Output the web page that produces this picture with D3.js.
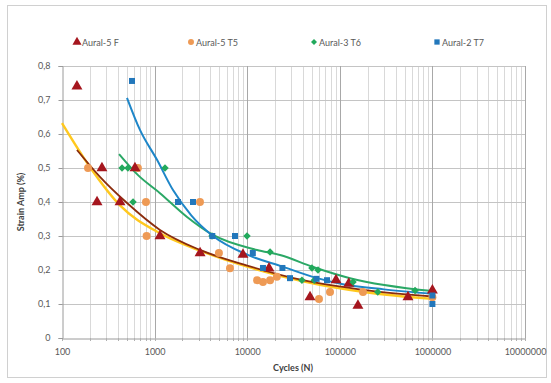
<!DOCTYPE html>
<html><head><meta charset="utf-8">
<script src="https://cdn.jsdelivr.net/npm/d3@7"></script>
<style>html,body{margin:0;padding:0;background:#fff;} svg{display:block;font-family:Lato,"Open Sans",sans-serif;}</style>
</head><body>
<script>
// ---- data ----
const seriesNames = ["Aural-5 F", "Aural-5 T5", "Aural-3 T6", "Aural-2 T7"];
const xTicks = [100, 1000, 10000, 100000, 1000000, 10000000];
const yTicks = [0, 0.1, 0.2, 0.3, 0.4, 0.5, 0.6, 0.7, 0.8];
const yTickLabels = ["0", "0,1", "0,2", "0,3", "0,4", "0,5", "0,6", "0,7", "0,8"];

const aural5F = [[145,0.74],[239,0.40],[270,0.50],[423,0.40],[614,0.50],[1143,0.30],[3100,0.25],[9000,0.245],[17200,0.205],[47700,0.12],[91000,0.17],[125000,0.16],[157000,0.095],[545000,0.12],[1000000,0.14]];
const aural5T5 = [[191,0.50],[660,0.50],[807,0.40],[820,0.30],[3090,0.40],[4950,0.25],[6520,0.205],[12800,0.17],[14800,0.165],[17650,0.17],[20900,0.18],[59600,0.115],[78400,0.135],[178000,0.135],[1000000,0.12]];
const aural3T6 = [[445,0.50],[515,0.50],[585,0.40],[1295,0.50],[4170,0.30],[9950,0.30],[17650,0.253],[39000,0.17],[50000,0.206],[53000,0.17],[58200,0.20],[139000,0.165],[257000,0.135],[650000,0.14]];
const aural2T7 = [[570,0.756],[1790,0.40],[2600,0.40],[4200,0.30],[7380,0.30],[11500,0.25],[14800,0.206],[24000,0.206],[29000,0.176],[56000,0.174],[72800,0.17],[1000000,0.125],[1000000,0.10]];

// trendlines
const trendF = [[145,0.553],[257,0.474],[504,0.397],[1143,0.318],[3090,0.259],[10000,0.213],[40000,0.17],[200000,0.14],[1000000,0.122]];
const trendT5 = [[100,0.632],[200,0.503],[423,0.39],[1143,0.308],[3090,0.257],[10000,0.21],[40000,0.167],[200000,0.134],[1000000,0.115]];
const trendT6 = [[413,0.541],[662,0.479],[1143,0.426],[2240,0.356],[4270,0.303],[12760,0.259],[22600,0.244],[51500,0.209],[129000,0.176],[1000000,0.138]];
const trendT7 = [[504,0.706],[695,0.612],[1062,0.524],[1581,0.435],[2500,0.36],[4270,0.30],[10000,0.245],[24000,0.21],[57000,0.176],[108000,0.158],[300000,0.143],[1000000,0.13]];

const W = 551, H = 383;
const svg = d3.select("body").append("svg").attr("width", W).attr("height", H);
svg.append("rect").attr("x",7.5).attr("y",5.5).attr("width",539).attr("height",372)
  .attr("fill","#fff").attr("stroke","#D0D0D0");

const x = d3.scaleLog().domain([100, 1e7]).range([62, 525]);
const y = d3.scaleLinear().domain([0, 0.8]).range([338, 66]);

// minor vertical grid
const minors = [];
for (let d = 100; d < 1e7; d *= 10) for (let k = 2; k <= 9; k++) minors.push(d * k);
svg.append("g").selectAll("line").data(minors).join("line")
  .attr("x1", d => Math.round(x(d)) + 0.5).attr("x2", d => Math.round(x(d)) + 0.5)
  .attr("y1", y(0.8)).attr("y2", y(0)).attr("stroke", "#D9D9D9").attr("stroke-width", 1);
// horizontal grid
svg.append("g").selectAll("line").data(yTicks.slice(1)).join("line")
  .attr("x1", x(100)).attr("x2", x(1e7))
  .attr("y1", d => Math.round(y(d)) + 0.5).attr("y2", d => Math.round(y(d)) + 0.5)
  .attr("stroke", "#C4C4C4");
// major vertical grid
svg.append("g").selectAll("line").data(xTicks.slice(1)).join("line")
  .attr("x1", d => Math.round(x(d)) + 0.5).attr("x2", d => Math.round(x(d)) + 0.5)
  .attr("y1", y(0.8)).attr("y2", y(0)).attr("stroke", "#A8A8A8");

// axes
const xAxis = d3.axisBottom(x).tickValues(xTicks).tickFormat(d3.format("d")).tickSize(0).tickPadding(10);
const gx = svg.append("g").attr("transform", `translate(0,${Math.round(y(0)) + 0.5})`).call(xAxis);
gx.select(".domain").attr("stroke", "#9A9A9A");
gx.selectAll("text").attr("fill", "#595959").style("font-size", "9px").style("font-family", "Lato, sans-serif");
// minor tick marks
svg.append("g").selectAll("line").data(minors.concat(xTicks)).join("line")
  .attr("x1", d => Math.round(x(d)) + 0.5).attr("x2", d => Math.round(x(d)) + 0.5)
  .attr("y1", y(0)).attr("y2", y(0) + 3).attr("stroke", "#B0B0B0");

const yAxis = d3.axisLeft(y).tickValues(yTicks).tickFormat((d, i) => yTickLabels[i]).tickSize(4).tickPadding(8);
const gy = svg.append("g").attr("transform", `translate(${Math.round(x(100)) + 0.5},0)`).call(yAxis);
gy.select(".domain").attr("stroke", "#9A9A9A");
gy.selectAll("line").attr("stroke", "#9A9A9A");
gy.selectAll("text").attr("fill", "#595959").style("font-size", "9px").style("font-family", "Lato, sans-serif");

// axis titles
svg.append("text").attr("x", 293).attr("y", 371).attr("text-anchor", "middle")
  .style("font-size", "9px").style("font-weight", "bold").attr("fill", "#404040").text("Cycles (N)");
svg.append("text").attr("transform", "translate(24,202) rotate(-90)").attr("text-anchor", "middle")
  .style("font-size", "9px").style("font-weight", "bold").attr("fill", "#404040").text("Strain Amp (%)");

// trendlines
const line = d3.line().x(d => x(d[0])).y(d => y(d[1])).curve(d3.curveMonotoneX);
const trends = [[trendT5, "#FFC81E", 2.4], [trendF, "#8B2C0C", 1.8], [trendT6, "#2BA866", 2], [trendT7, "#1E86C8", 2]];
trends.forEach(([data, col, w]) => {
  svg.append("path").datum(data).attr("d", line).attr("fill", "none").attr("stroke", col).attr("stroke-width", w);
});

// markers
const cols = ["#A5161E", "#EE9A55", "#22A95C", "#2277BB"];
const sym = [d3.symbolTriangle, d3.symbolCircle, d3.symbolSquare, d3.symbolSquare];
const rot = [0, 0, 45, 0];
const sizes = [52, 50, 28, 36];
const allSeries = [aural5F, aural5T5, aural3T6, aural2T7];
const drawOrder = [1, 0, 2, 3];
drawOrder.forEach(i => {
  svg.append("g").selectAll("path").data(allSeries[i]).join("path")
    .attr("transform", d => `translate(${x(d[0])},${y(d[1])}) rotate(${rot[i]})`)
    .attr("d", d3.symbol(sym[i], sizes[i])).attr("fill", cols[i]);
});

// legend
const legX = [77, 191, 314, 437];
const legend = svg.append("g");
seriesNames.forEach((name, i) => {
  legend.append("path").attr("transform", `translate(${legX[i]},42) rotate(${rot[i]})`)
    .attr("d", d3.symbol(sym[i], i === 0 ? 36 : (i === 2 ? 18 : 28))).attr("fill", cols[i]);
  legend.append("text").attr("x", legX[i] + 5).attr("y", 45.5).style("font-size", "9px")
    .attr("fill", "#595959").text(name);
});
</script>
</body></html>
